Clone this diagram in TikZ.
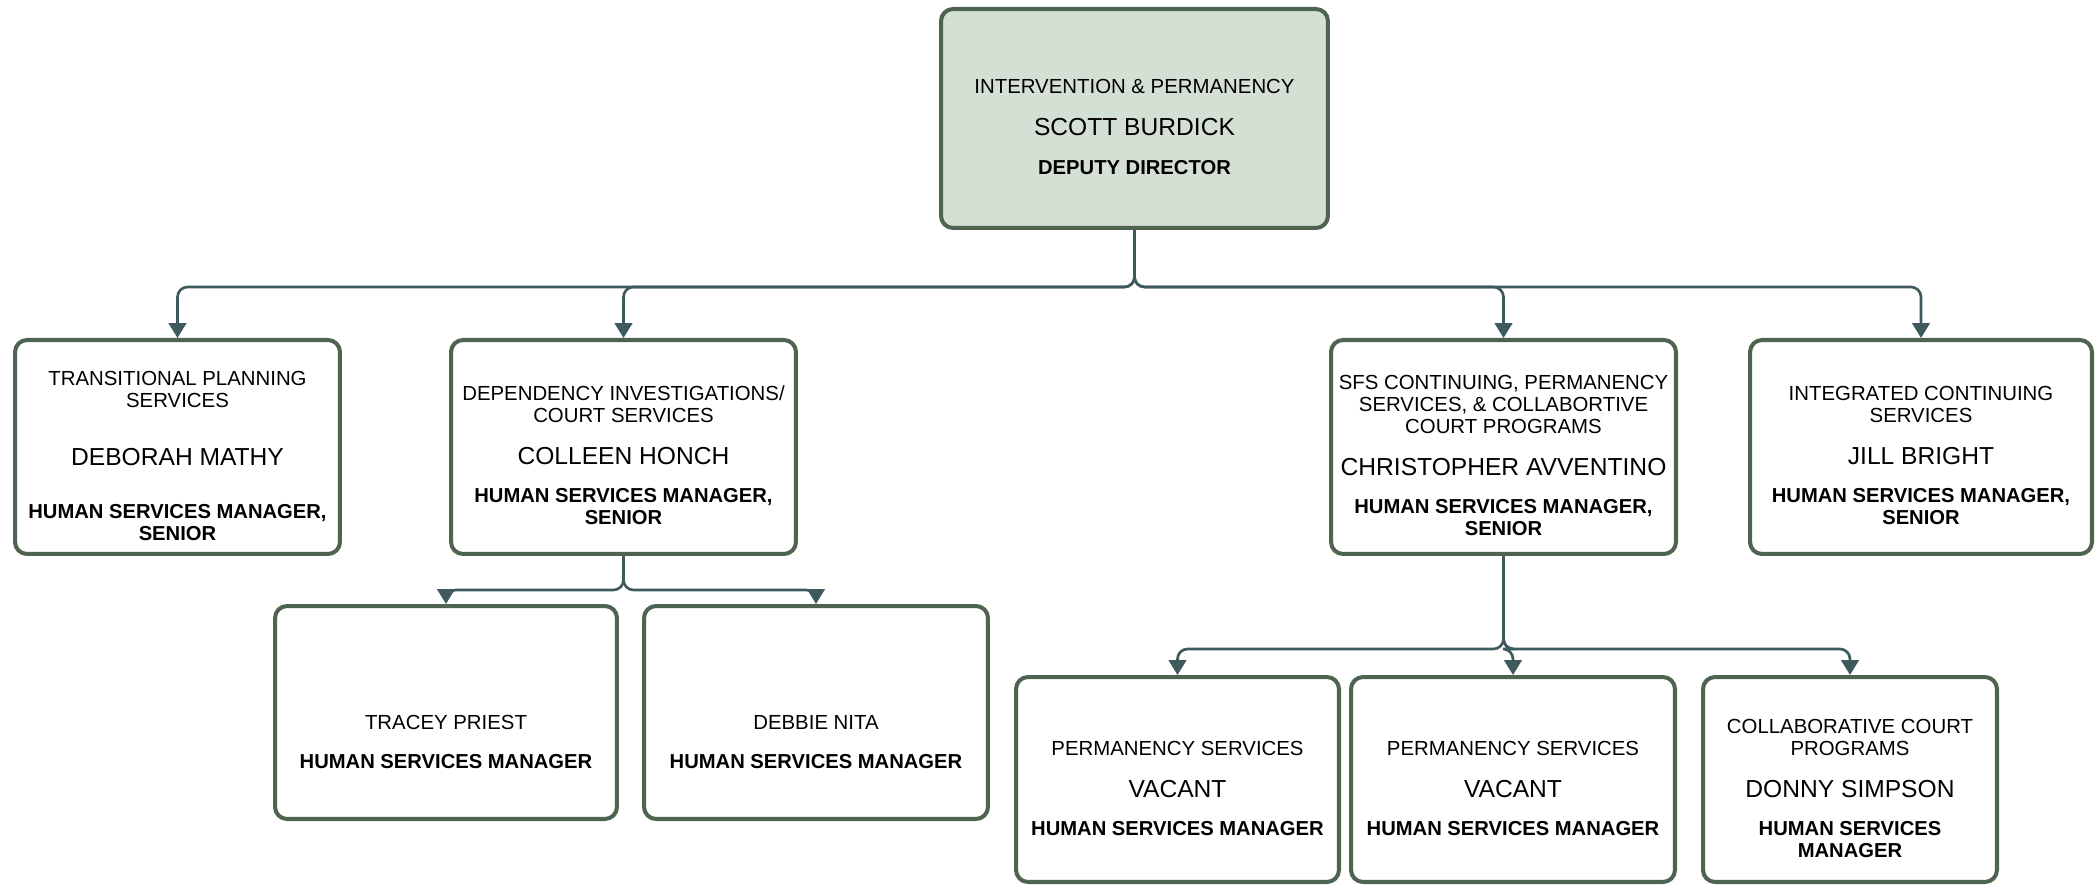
\documentclass[tikz,border=0pt]{standalone}
\usepackage{fontspec}
\setmainfont{Liberation Sans}
\usetikzlibrary{arrows.meta}

\definecolor{boxline}{HTML}{4E6450}
\definecolor{topfill}{HTML}{D5E0D4}
\definecolor{linkcol}{HTML}{3E5A5C}

\newcommand{\topgap}{\rule{0pt}{18pt}}
\newcommand{\ttl}[1]{{\fontsize{11.6}{12.5}\selectfont #1}}
\newcommand{\nm}[1]{{\fontsize{14}{12.5}\selectfont #1}}
\newcommand{\rl}[1]{{\fontsize{11.5}{12.5}\selectfont\bfseries #1}}

\begin{document}
\begin{tikzpicture}
	[x=0.02cm,y=-0.02cm,
	box/.style={draw=boxline,line width=2.3pt,rounded corners=0.24cm,fill=white,
		align=center,inner sep=0pt,font=\fontsize{11.6}{12.5}\selectfont},
	link/.style={draw=linkcol,line width=1.5pt,rounded corners=0.2cm,
		-{Triangle[width=10pt,length=8.5pt]}}]
	\useasboundingbox (0,0) rectangle (2097,888);
	
	\node[box,fill=topfill,minimum width=7.74cm,minimum height=4.38cm] (top) at (1134.5,118.5)
		{\topgap\ttl{INTERVENTION \& PERMANENCY}\\[11pt]\nm{SCOTT BURDICK}\\[10pt]\rl{DEPUTY DIRECTOR}};
	
	\node[box,minimum width=6.50cm,minimum height=4.28cm] (tps) at (177.5,447)
		{\topgap\ttl{TRANSITIONAL PLANNING}\\\ttl{SERVICES}\\[20.5pt]\nm{DEBORAH MATHY}\\[17.5pt]\rl{HUMAN SERVICES MANAGER,}\\\rl{SENIOR}};
	\node[box,minimum width=6.90cm,minimum height=4.28cm] (dics) at (623.5,447)
		{\topgap\ttl{DEPENDENCY INVESTIGATIONS/}\\\ttl{COURT SERVICES}\\[11.5pt]\nm{COLLEEN HONCH}\\[9pt]\rl{HUMAN SERVICES MANAGER,}\\\rl{SENIOR}};
	\node[box,minimum width=6.90cm,minimum height=4.28cm] (sfs) at (1503.5,447)
		{\topgap\ttl{SFS CONTINUING, PERMANENCY}\\\ttl{SERVICES, \& COLLABORTIVE}\\\ttl{COURT PROGRAMS}\\[11.5pt]\nm{CHRISTOPHER AVVENTINO}\\[9pt]\rl{HUMAN SERVICES MANAGER,}\\\rl{SENIOR}};
	\node[box,minimum width=6.84cm,minimum height=4.28cm] (ics) at (1921,447)
		{\topgap\ttl{INTEGRATED CONTINUING}\\\ttl{SERVICES}\\[11.5pt]\nm{JILL BRIGHT}\\[9pt]\rl{HUMAN SERVICES MANAGER,}\\\rl{SENIOR}};
	
	\node[box,minimum width=6.84cm,minimum height=4.26cm] (tp) at (446,712.5)
		{\topgap\\[11.3pt]\ttl{TRACEY PRIEST}\\[10pt]\rl{HUMAN SERVICES MANAGER}};
	\node[box,minimum width=6.88cm,minimum height=4.26cm] (dn) at (816,712.5)
		{\topgap\\[11.3pt]\ttl{DEBBIE NITA}\\[10pt]\rl{HUMAN SERVICES MANAGER}};
	
	\node[box,minimum width=6.46cm,minimum height=4.10cm] (ps1) at (1177.5,779.5)
		{\topgap\ttl{PERMANENCY SERVICES}\\[11.5pt]\nm{VACANT}\\[9pt]\rl{HUMAN SERVICES MANAGER}};
	\node[box,minimum width=6.48cm,minimum height=4.10cm] (ps2) at (1513,779.5)
		{\topgap\ttl{PERMANENCY SERVICES}\\[11.5pt]\nm{VACANT}\\[9pt]\rl{HUMAN SERVICES MANAGER}};
	\node[box,minimum width=5.88cm,minimum height=4.10cm] (ccp) at (1850,779.5)
		{\topgap\ttl{COLLABORATIVE COURT}\\\ttl{PROGRAMS}\\[11.5pt]\nm{DONNY SIMPSON}\\[9pt]\rl{HUMAN SERVICES}\\\rl{MANAGER}};
	
	\foreach \kid in {tps,dics,sfs,ics}
		\draw[link] (top.south) -- ++(0,57) -| (\kid.north);
	\foreach \kid in {tp,dn}
		\draw[link] (dics.south) -- ++(0,34) -| (\kid.north);
	\foreach \kid in {ps1,ps2,ccp}
		\draw[link] (sfs.south) -- ++(0,93) -| (\kid.north);
\end{tikzpicture}
\end{document}
